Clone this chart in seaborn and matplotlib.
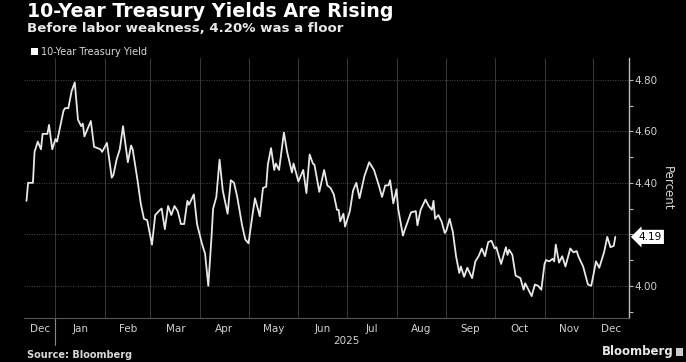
import pandas as pd
import seaborn as sns
import matplotlib.pyplot as plt
import matplotlib.dates as mdates
import matplotlib.transforms as mtransforms
from matplotlib.patches import Patch, Rectangle
from matplotlib.ticker import MultipleLocator, FixedLocator, FixedFormatter, FuncFormatter, NullFormatter

# 10-year yield
dates = [
    "2024-12-14", "2024-12-15", "2024-12-18", "2024-12-19", "2024-12-21", "2024-12-23",
    "2024-12-24", "2024-12-27", "2024-12-28", "2024-12-30",
    "2025-01-01", "2025-01-02", "2025-01-06", "2025-01-07", "2025-01-09", "2025-01-11",
    "2025-01-13", "2025-01-15", "2025-01-17", "2025-01-18", "2025-01-19", "2025-01-23",
    "2025-01-25", "2025-01-29", "2025-01-30",
    "2025-02-02", "2025-02-05", "2025-02-06", "2025-02-08", "2025-02-10", "2025-02-12",
    "2025-02-15", "2025-02-17", "2025-02-18", "2025-02-21", "2025-02-23", "2025-02-25",
    "2025-02-27",
    "2025-03-02", "2025-03-04", "2025-03-07", "2025-03-08", "2025-03-10", "2025-03-12",
    "2025-03-14", "2025-03-16", "2025-03-18", "2025-03-20", "2025-03-22", "2025-03-24",
    "2025-03-25", "2025-03-28", "2025-03-30",
    "2025-04-02", "2025-04-04", "2025-04-06", "2025-04-08", "2025-04-09", "2025-04-11",
    "2025-04-13", "2025-04-15", "2025-04-18", "2025-04-20", "2025-04-22", "2025-04-24",
    "2025-04-27", "2025-04-29",
    "2025-05-01", "2025-05-03", "2025-05-05", "2025-05-07", "2025-05-08", "2025-05-10",
    "2025-05-12", "2025-05-13", "2025-05-15", "2025-05-17", "2025-05-18", "2025-05-20",
    "2025-05-23", "2025-05-25", "2025-05-28", "2025-05-29",
    "2025-06-01", "2025-06-04", "2025-06-06", "2025-06-08", "2025-06-10", "2025-06-11",
    "2025-06-14", "2025-06-17", "2025-06-19", "2025-06-21", "2025-06-23", "2025-06-25",
    "2025-06-26", "2025-06-27", "2025-06-29", "2025-06-30",
    "2025-07-03", "2025-07-05", "2025-07-07", "2025-07-09", "2025-07-12", "2025-07-15",
    "2025-07-18", "2025-07-21", "2025-07-23", "2025-07-25", "2025-07-27", "2025-07-28",
    "2025-07-30",
    "2025-08-01", "2025-08-02", "2025-08-05", "2025-08-06", "2025-08-08", "2025-08-10",
    "2025-08-13", "2025-08-14", "2025-08-16", "2025-08-19", "2025-08-21", "2025-08-23",
    "2025-08-24", "2025-08-25", "2025-08-27", "2025-08-29", "2025-08-31",
    "2025-09-01", "2025-09-03", "2025-09-05", "2025-09-07", "2025-09-09", "2025-09-10",
    "2025-09-12", "2025-09-14", "2025-09-17", "2025-09-19", "2025-09-21", "2025-09-23",
    "2025-09-25", "2025-09-27", "2025-09-29",
    "2025-10-01", "2025-10-02", "2025-10-05", "2025-10-08", "2025-10-09", "2025-10-10",
    "2025-10-12", "2025-10-14", "2025-10-17", "2025-10-19", "2025-10-20", "2025-10-22",
    "2025-10-24", "2025-10-26", "2025-10-28", "2025-10-30",
    "2025-11-01", "2025-11-02", "2025-11-04", "2025-11-06", "2025-11-07", "2025-11-08",
    "2025-11-10", "2025-11-12", "2025-11-14", "2025-11-17", "2025-11-19", "2025-11-21",
    "2025-11-22", "2025-11-25", "2025-11-28", "2025-11-30",
    "2025-12-01", "2025-12-03", "2025-12-05", "2025-12-08", "2025-12-10", "2025-12-12",
    "2025-12-14", "2025-12-15",
]
yields = [
    4.33, 4.40, 4.40, 4.52, 4.56, 4.53, 4.59, 4.59, 4.625, 4.53,
    4.57, 4.56, 4.68, 4.69, 4.69, 4.755, 4.79, 4.645, 4.62, 4.63, 4.58, 4.64,
    4.54, 4.53, 4.52,
    4.555, 4.42, 4.43, 4.49, 4.53, 4.62, 4.48, 4.545, 4.53, 4.41, 4.32, 4.26,
    4.255,
    4.16, 4.275, 4.295, 4.30, 4.22, 4.31, 4.275, 4.31, 4.29, 4.24, 4.24, 4.33,
    4.315, 4.355, 4.24,
    4.165, 4.125, 4.00, 4.19, 4.30, 4.345, 4.49, 4.37, 4.28, 4.41, 4.40, 4.345,
    4.235, 4.18,
    4.165, 4.255, 4.34, 4.295, 4.27, 4.38, 4.385, 4.47, 4.535, 4.45, 4.475, 4.45,
    4.595, 4.52, 4.44, 4.475,
    4.405, 4.45, 4.36, 4.51, 4.475, 4.47, 4.365, 4.45, 4.39, 4.38, 4.355, 4.295,
    4.295, 4.25, 4.28, 4.23,
    4.29, 4.37, 4.40, 4.34, 4.425, 4.48, 4.45, 4.39, 4.345, 4.39, 4.39, 4.41,
    4.32,
    4.375, 4.30, 4.195, 4.215, 4.25, 4.285, 4.29, 4.235, 4.295, 4.335, 4.31, 4.295,
    4.33, 4.26, 4.275, 4.25, 4.205,
    4.215, 4.26, 4.21, 4.115, 4.05, 4.075, 4.035, 4.07, 4.03, 4.095, 4.115, 4.145,
    4.115, 4.17, 4.175,
    4.145, 4.15, 4.085, 4.15, 4.12, 4.14, 4.12, 4.04, 4.03, 3.985, 4.01, 3.985,
    3.96, 4.005, 4.00, 3.985,
    4.085, 4.10, 4.095, 4.105, 4.095, 4.16, 4.09, 4.115, 4.075, 4.145, 4.13, 4.135,
    4.115, 4.075, 4.005, 4.00,
    4.03, 4.095, 4.07, 4.13, 4.19, 4.15, 4.155, 4.19,
]

month_labels = ["Dec", "Jan", "Feb", "Mar", "Apr", "May", "Jun",
                "Jul", "Aug", "Sep", "Oct", "Nov", "Dec"]
year_label = "2025"
last_label = "4.19"
series_name = "10-Year Treasury Yield"

title = "10-Year Treasury Yields Are Rising"
subtitle = "Before labor weakness, 4.20% was a floor"
source = "Source: Bloomberg"

df = pd.DataFrame({"date": pd.to_datetime(dates), "yield": yields})

sns.set_style("dark")
plt.rcParams["font.family"] = ["DejaVu Sans"]

fig = plt.figure(figsize=(6.86, 3.62), dpi=100, facecolor="black")
ax = fig.add_axes([0.0357, 0.1215, 0.881, 0.7185])
ax.set_facecolor("black")

sns.lineplot(data=df, x="date", y="yield", ax=ax, color="#e8e8e8",
             linewidth=1.3, legend=False, zorder=3)
ax.set_xlabel("")

x0 = pd.Timestamp("2024-12-12 18:00")
x1 = pd.Timestamp("2025-12-23 10:00")
ax.set_xlim(x0, x1)
ax.set_ylim(3.875, 4.885)

# spines
for side in ["top", "left"]:
    ax.spines[side].set_visible(False)
ax.spines["right"].set_color("#bbbbbb")
ax.spines["right"].set_linewidth(1.0)
ax.spines["bottom"].set_color("#555555")
ax.spines["bottom"].set_linewidth(0.8)

# y axis on the right
ax.yaxis.tick_right()
ax.yaxis.set_label_position("right")
ax.yaxis.set_major_locator(MultipleLocator(0.2))
ax.yaxis.set_minor_locator(MultipleLocator(0.1))
ax.yaxis.set_major_formatter(FuncFormatter(lambda v, p: "" if abs(v - 4.2) < 1e-6 else f"{v:.2f}"))
ax.tick_params(axis="y", which="both", colors="#bbbbbb", labelcolor="#d0d0d0",
               labelsize=7.5, length=3, width=0.8, pad=1, direction="out")
ax.set_ylabel("Percent", color="#d8d8d8", fontsize=8.5, rotation=270, labelpad=12)

# x axis: gridlines on month starts, labels centred in each month
ax.xaxis.set_major_locator(mdates.MonthLocator())
ax.xaxis.set_major_formatter(NullFormatter())
month_starts = pd.date_range("2024-12-01", "2026-01-01", freq="MS")
centres = []
for a, b in zip(month_starts[:-1], month_starts[1:]):
    a = max(a, x0)
    b = min(b, x1)
    centres.append(mdates.date2num(a + (b - a) / 2))
ax.xaxis.set_minor_locator(FixedLocator(centres))
ax.xaxis.set_minor_formatter(FixedFormatter(month_labels))
ax.tick_params(axis="x", which="major", length=0)
ax.tick_params(axis="x", which="minor", length=0, labelsize=7.5,
               labelcolor="#d0d0d0", pad=4)

ax.grid(axis="x", which="major", color="#3a3a3a", linewidth=0.7, linestyle="-")
ax.grid(axis="y", which="major", color="#4a4a4a", linewidth=0.7, linestyle=(0, (1, 1.5)))
ax.grid(axis="x", which="minor", visible=False)

# year marker under the first of January
trans = mtransforms.blended_transform_factory(ax.transData, ax.transAxes)
jan1 = pd.Timestamp(year_label + "-01-01")
ax.plot([jan1, jan1], [0, -0.105], transform=trans, color="#888888",
        linewidth=0.8, clip_on=False)
mid_year = pd.Timestamp(year_label + "-07-01")
ax.text(mid_year, -0.068, year_label, transform=trans, ha="center", va="top",
        color="#d0d0d0", fontsize=7.5)

# last value tag
ax.annotate(last_label, xy=(1, df["yield"].iloc[-1]), xycoords=("axes fraction", "data"),
            xytext=(7, 0), textcoords="offset points", ha="left", va="center",
            fontsize=7.5, color="black", zorder=5, annotation_clip=False,
            bbox=dict(boxstyle="larrow,pad=0.2", fc="white", ec="none"))

# titles and legend
fig.text(0.040, 0.968, title, color="white", fontsize=13.7, fontweight="bold",
         ha="left", va="center")
fig.text(0.040, 0.920, subtitle, color="#e8e8e8", fontsize=9.6, fontweight="bold",
         ha="left", va="center")
fig.legend(handles=[Patch(facecolor="white", edgecolor="none", label=series_name)],
           loc="center left", bbox_to_anchor=(0.045, 0.857), frameon=False,
           handlelength=0.7, handleheight=0.7, handletextpad=0.3,
           fontsize=7, labelcolor="#d8d8d8", borderaxespad=0, borderpad=0)

fig.text(0.040, 0.020, source, color="#d8d8d8", fontsize=7, fontweight="bold",
         ha="left", va="center")
fig.text(0.982, 0.028, "Bloomberg", color="#e8e8e8", fontsize=8.5, fontweight="bold",
         ha="right", va="center")
fig.patches.append(Rectangle((0.985, 0.016), 0.010, 0.024, transform=fig.transFigure,
                             facecolor="#cccccc", edgecolor="none"))

fig.savefig("out.png", dpi=100, facecolor="black")
